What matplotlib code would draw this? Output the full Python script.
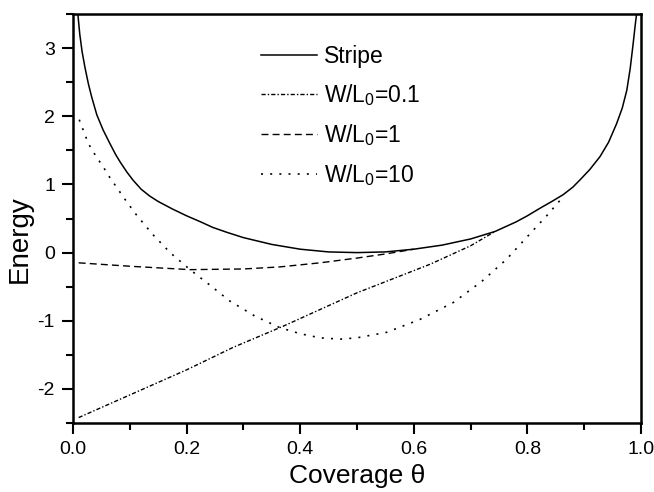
import numpy as np
import matplotlib
matplotlib.use("Agg")
import matplotlib.pyplot as plt
from matplotlib.ticker import MultipleLocator, FormatStrFormatter

plt.rcParams['font.family'] = ['Liberation Sans', 'DejaVu Sans']
plt.rcParams['mathtext.fontset'] = 'custom'
plt.rcParams['mathtext.rm'] = 'Liberation Sans'
plt.rcParams['mathtext.it'] = 'Liberation Sans:italic'
plt.rcParams['axes.unicode_minus'] = False

# values
stripe_x = [0.008, 0.012, 0.016, 0.021, 0.027, 0.033, 0.042, 0.053, 0.065, 0.075,
            0.083, 0.095, 0.106, 0.12, 0.135, 0.15, 0.175, 0.2, 0.225, 0.246,
            0.27, 0.3, 0.35, 0.4, 0.45, 0.5, 0.55, 0.6, 0.65, 0.7, 0.743, 0.78,
            0.8, 0.822, 0.843, 0.863, 0.88, 0.893, 0.91, 0.928, 0.943, 0.957,
            0.967, 0.975, 0.981, 0.986, 0.99, 0.993]
stripe_y = [3.55, 3.2, 2.95, 2.72, 2.48, 2.28, 2.02, 1.80, 1.60, 1.44,
            1.33, 1.18, 1.06, 0.93, 0.83, 0.75, 0.64, 0.54, 0.45, 0.37,
            0.30, 0.22, 0.12, 0.05, 0.01, 0.0, 0.01, 0.05, 0.11, 0.2, 0.31, 0.45,
            0.54, 0.65, 0.75, 0.85, 0.96, 1.07, 1.22, 1.41, 1.62, 1.89,
            2.12, 2.38, 2.7, 3.05, 3.35, 3.55]

w01_x = [0.01, 0.2, 0.282, 0.37, 0.5, 0.629, 0.7, 0.743]
w01_y = [-2.42, -1.72, -1.39, -1.08, -0.59, -0.17, 0.1, 0.31]

w1_x = [0.01, 0.1, 0.206, 0.3, 0.364, 0.435, 0.5, 0.55, 0.6]
w1_y = [-0.15, -0.2, -0.25, -0.24, -0.21, -0.15, -0.08, -0.02, 0.05]

w10_x = [0.011, 0.027, 0.04, 0.053, 0.065, 0.08, 0.095, 0.112, 0.14, 0.171,
         0.206, 0.24, 0.276, 0.32, 0.364, 0.4, 0.435, 0.47, 0.5, 0.552,
         0.611, 0.67, 0.72, 0.763, 0.805, 0.835, 0.863]
w10_y = [1.95, 1.6, 1.42, 1.26, 1.1, 0.92, 0.74, 0.55, 0.27, 0.0,
         -0.25, -0.47, -0.71, -0.93, -1.10, -1.19, -1.25, -1.27, -1.25, -1.17,
         -0.98, -0.73, -0.42, -0.10, 0.28, 0.55, 0.82]

fig = plt.figure(figsize=(6.54, 4.92), dpi=100)
ax = fig.add_axes([0.1116, 0.1402, 0.8685, 0.8313])

ax.plot(stripe_x, stripe_y, color='black', lw=1.1, ls='-', label='Stripe')
ax.plot(w01_x, w01_y, color='black', lw=1.0, ls=(0, (3, 1.5, 1, 1.5)), label=r'W/L$_0$=0.1')
ax.plot(w1_x, w1_y, color='black', lw=1.0, ls=(0, (5, 3)), label=r'W/L$_0$=1')
ax.plot(w10_x, w10_y, color='black', lw=1.2, ls=(0, (1.2, 4.3)), label=r'W/L$_0$=10')

ax.set_xlim(0, 1.0)
ax.set_ylim(-2.5, 3.5)
ax.xaxis.set_major_locator(MultipleLocator(0.2))
ax.xaxis.set_minor_locator(MultipleLocator(0.1))
ax.yaxis.set_major_locator(MultipleLocator(1))
ax.yaxis.set_minor_locator(MultipleLocator(0.5))
ax.xaxis.set_major_formatter(FormatStrFormatter('%.1f'))

ax.tick_params(which='major', direction='out', length=8, width=1.5, labelsize=14, pad=5)
ax.tick_params(which='minor', direction='out', length=5, width=1.5)
ax.tick_params(top=False, right=False, which='both')
for s in ax.spines.values():
    s.set_linewidth(1.8)

ax.set_xlabel('Coverage θ', fontsize=19)
ax.set_ylabel('Energy', fontsize=20)
ax.yaxis.set_label_coords(-0.07, 0.45)
ax.xaxis.set_label_coords(0.5, -0.1)

ax.legend(loc='upper left', bbox_to_anchor=(0.331, 0.925), frameon=False,
          fontsize=16.5, handlelength=2.45, handletextpad=0.3, labelspacing=0.62,
          borderpad=0, borderaxespad=0)

fig.savefig('out.png', dpi=100)
